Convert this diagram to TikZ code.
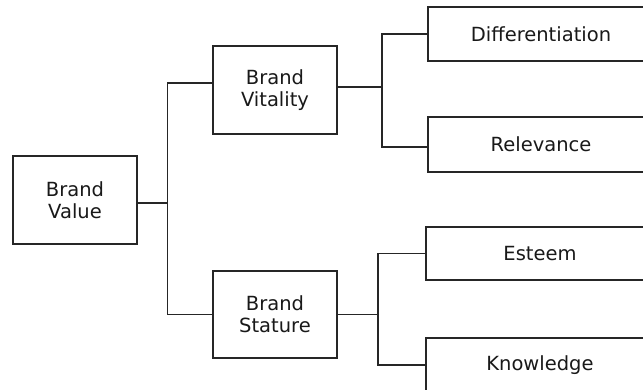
\documentclass[tikz,border=0pt]{standalone}
\usepackage{fontspec}
\setmainfont{DejaVu Sans}
\begin{document}
\begin{tikzpicture}[x=1pt,y=-1pt,
  box/.style={draw=black!85,line width=1.5pt,fill=white,inner sep=0pt,align=center,
    font=\fontsize{19.5}{22}\selectfont,text=black!90},
  conn/.style={draw=black!85,line width=1.5pt}]
\useasboundingbox (0,0) rectangle (643,390);
\fill[white] (0,0) rectangle (643,390);
\clip (0,0) rectangle (643,390);
\node[box,minimum width=124pt,minimum height=88pt] (bv) at (75,200) {Brand\\Value};
\node[box,minimum width=124pt,minimum height=88pt] (vit) at (275,90) {Brand\\Vitality};
\node[box,minimum width=124pt,minimum height=87pt] (sta) at (275,314.5) {Brand\\Stature};
\node[box,minimum width=226pt,minimum height=54pt] (dif) at (541,34) {Differentiation};
\node[box,minimum width=226pt,minimum height=55pt] (rel) at (541,144.5) {Relevance};
\node[box,minimum width=228pt,minimum height=53pt] (est) at (540,253.5) {Esteem};
\node[box,minimum width=228pt,minimum height=54pt] (kno) at (540,365) {Knowledge};
\coordinate (t) at (167.5,0);
\coordinate (f1) at (382,0);
\coordinate (f2) at (378,0);
\coordinate (relin) at ([yshift=-2.5pt]rel.west);
\coordinate (bvout) at ([yshift=-3pt]bv.east);
\coordinate (vitin) at ([yshift=7pt]vit.west);
\coordinate (vitout) at ([yshift=3pt]vit.east);
\draw[conn] (bvout) -- (bvout -| t);
\draw[conn] (vitin) -| (t |- sta.west) -- (sta.west);
\draw[conn] (vitout) -- (vitout -| f1);
\draw[conn] (dif.west) -| (f1 |- relin) -- (relin);
\draw[conn] (sta.east) -- (sta.east -| f2);
\draw[conn] (est.west) -| (f2 |- kno.west) -- (kno.west);
\end{tikzpicture}
\end{document}
